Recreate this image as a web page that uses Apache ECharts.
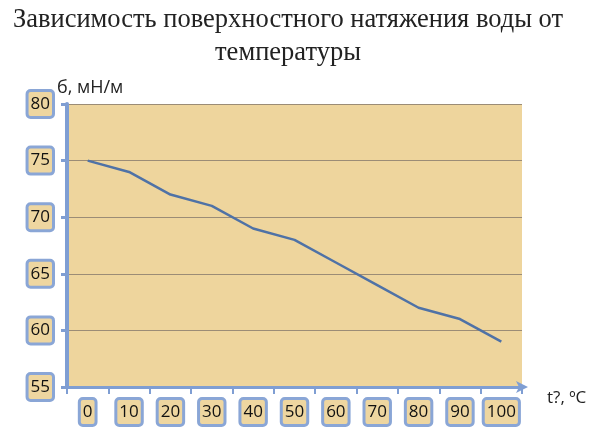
<!DOCTYPE html>
<html><head><meta charset="utf-8">
<script src="https://cdn.jsdelivr.net/npm/echarts@6/dist/echarts.min.js"></script>
<style>html,body{margin:0;padding:0;background:#fff}#c{width:600px;height:448px}</style>
</head><body><div id="c"></div>
<script>
const titleText = 'Зависимость поверхностного натяжения воды от\nтемпературы';
const categories = ['0','10','20','30','40','50','60','70','80','90','100'];
const tension = [75,74,72,71,69,68,66,64,62,61,59];
const yName = 'б, мН/м';
const xName = 't?, ºC';

const boxLabel = {
  color:'#111', fontSize:17, fontFamily:'Open Sans, Liberation Sans, sans-serif',
  backgroundColor:'#eed6a0', borderColor:'#8aa6d6', borderWidth:3,
  padding:[4,2,3,2], borderRadius:2
};
const chart = echarts.init(document.getElementById('c'));
chart.setOption({
  animation:false,
  title:{text:titleText,left:283,top:-1,textAlign:'center',
    textStyle:{fontFamily:'Liberation Serif, serif',fontSize:26.5,fontWeight:'normal',color:'#222',lineHeight:33}},
  grid:{left:67,right:78,top:104,bottom:61,show:true,backgroundColor:'#eed59d',borderWidth:0},
  xAxis:{type:'category',data:categories,boundaryGap:true,
    name:xName,nameLocation:'end',nameGap:25,nameMoveOverlap:false,
    nameTextStyle:{fontSize:17,color:'#222',fontFamily:'Open Sans, Liberation Sans, sans-serif',verticalAlign:'top',align:'left',padding:[3,0,0,0]},
    axisLine:{lineStyle:{color:'#7f9ed3',width:3},symbol:['none','arrow'],symbolSize:[9,12],symbolOffset:[0,6]},
    axisTick:{show:true,length:7,lineStyle:{color:'#7f9ed3',width:2}},
    axisLabel:Object.assign({margin:13},boxLabel),
    splitLine:{show:false}},
  yAxis:{type:'value',min:55,max:80,interval:5,
    name:yName,nameLocation:'end',nameGap:16,nameMoveOverlap:false,
    nameTextStyle:{fontSize:18,color:'#222',fontFamily:'Open Sans, Liberation Sans, sans-serif',align:'left',verticalAlign:'middle',padding:[0,0,0,-10]},
    axisLine:{show:true,lineStyle:{color:'#7f9ed3',width:4}},
    axisTick:{show:true,length:6,lineStyle:{color:'#7f9ed3',width:3}},
    axisLabel:Object.assign({margin:15},boxLabel),
    splitLine:{show:true,lineStyle:{color:'#9b8c76',width:1}}},
  series:[{type:'line',data:tension,symbol:'none',smooth:false,
    lineStyle:{color:'#4f72a6',width:2.5}}]
});
</script></body></html>
